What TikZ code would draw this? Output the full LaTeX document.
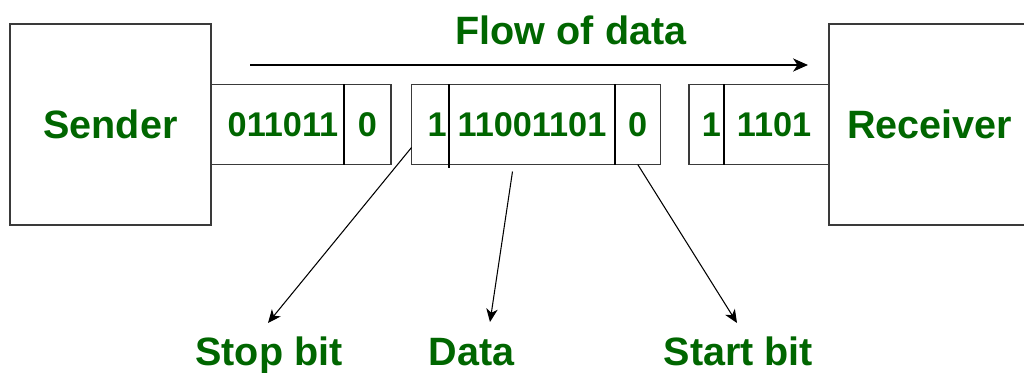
\documentclass[tikz,border=0pt]{standalone}
\usepackage{fontspec}
\setmainfont{Liberation Sans}
\usepackage{tikz}
\usetikzlibrary{arrows.meta,positioning,calc}
\definecolor{FlowGreen}{HTML}{006600}
\definecolor{FrameGray}{HTML}{3A3A3A}

\begin{document}
\begin{tikzpicture}

%% ── helpers ───────────────────────────────────────────────
\tikzset{
  endbox/.style={rectangle,draw=FrameGray,line width=0.6pt,
                 minimum width=4.02cm,minimum height=4.02cm,
                 outer sep=0pt,inner sep=0pt,
                 font=\fontsize{22.5}{27}\selectfont\bfseries,text=FlowGreen},
  bitcell/.style={rectangle,draw=FrameGray,line width=0.6pt,
                  minimum width=#1,minimum height=1.6cm,
                  outer sep=0pt,inner sep=0pt,
                  font=\fontsize{19.5}{23}\selectfont\bfseries,text=FlowGreen},
  lbl/.style={font=\fontsize{22.5}{27}\selectfont\bfseries,text=FlowGreen,
              inner sep=0pt,anchor=base},
  divider/.style={line width=1.2pt,black},
  flowarr/.style={line width=0.85pt,-{Stealth[length=8.5pt,width=7.5pt,inset=2.5pt]}},
  ptr/.style={line width=0.6pt,-{Stealth[length=7.5pt,width=6.5pt,inset=2.2pt]}},
}

\useasboundingbox (0,0) rectangle (20.48,7.44);
\fill[white] (0,0) rectangle (20.48,7.44);

%% ── SENDER and first frame ───────────────────────────────
\node[endbox] (sender) at (2.21,4.95) {Sender};
\node[bitcell=2.66cm,right=0pt of sender] (a1) {\hspace*{0.22cm}011011};
\node[bitcell=0.94cm,right=0pt of a1]     (a2) {0};
\draw[divider] (a1.north east) -- (a1.south east);

%% ── middle frame (stop | data | start) ──
\node[bitcell=0.75cm,right=0.41cm of a2] (b1) {\hspace*{0.28cm}1};
\node[bitcell=3.32cm,right=0pt of b1]    (b2) {11001101};
\node[bitcell=0.91cm,right=0pt of b2]    (b3) {0};
\draw[divider] (b1.north east) -- ([yshift=-0.06cm]b1.south east);
\draw[divider] (b2.north east) -- (b2.south east);

%% ── last frame and RECEIVER ──
\node[bitcell=0.70cm,right=0.57cm of b3] (c1) {\hspace*{0.2cm}1};
\node[bitcell=2.10cm,right=0pt of c1]    (c2) {1101\hspace*{0.1cm}};
\draw[divider] (c1.north east) -- (c1.south east);
\node[endbox,right=0pt of c2] (receiver) {Receiver};

%% ── flow of data ──
\coordinate (flowstart) at (5.0,6.14);
\coordinate (flowend)   at (16.16,6.14);
\draw[flowarr] (flowstart) -- (flowend);
\node[lbl] (flowlbl) at (11.42,6.54) {Flow of data};

%% ── bit labels below ──
\node[lbl] (stoplbl)  at (5.38,0.14)  {Stop bit};
\node[lbl] (datalbl)  at (9.43,0.14)  {Data};
\node[lbl] (startlbl) at (14.77,0.14) {Start bit};

\coordinate (stoptip)  at (5.36,0.98);
\coordinate (datatip)  at (9.80,1.00);
\coordinate (starttip) at (14.74,0.98);

\draw[ptr] ($(b1.south west)+(0,0.34)$) -- (stoptip);
\draw[ptr] ($(b2.south)+(-0.39,-0.14)$) -- (datatip);
\draw[ptr] (b3.south) -- (starttip);

\end{tikzpicture}
\end{document}
